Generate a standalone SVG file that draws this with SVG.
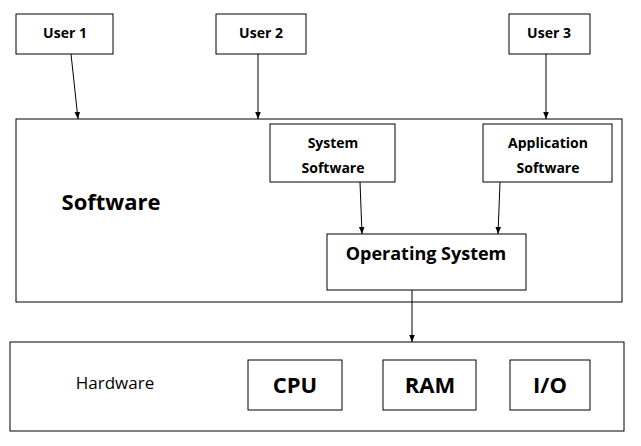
<svg xmlns="http://www.w3.org/2000/svg" width="641" height="446" viewBox="0 0 641 446">
<style>
rect{fill:#fff;stroke:#000;stroke-width:1}
text{font-family:"Open Sans","Liberation Sans",sans-serif;fill:#000;text-anchor:middle}
.b{font-weight:bold;font-size:14px}
.big{font-weight:bold;font-size:22px}
line{stroke:#000;stroke-width:1;marker-end:url(#a)}
</style>
<defs><marker id="a" viewBox="0 0 10 10" refX="10" refY="5" markerWidth="7" markerHeight="7" orient="auto"><path d="M0,1L10,5L0,9z" fill="#000"/></marker></defs>
<rect width="641" height="446" style="stroke:none"/>
<g id="software"><rect x="16" y="119" width="606" height="183"/><text x="111" y="210" class="big">Software</text></g>
<g id="hardware"><rect x="10" y="342" width="614" height="89"/><text x="115" y="389" style="font-size:17px">Hardware</text></g>
<g id="user1"><rect x="16" y="14" width="97" height="40"/><text x="65" y="38" class="b">User 1</text></g>
<g id="user2"><rect x="216" y="14" width="90" height="40"/><text x="261" y="38" class="b">User 2</text></g>
<g id="user3"><rect x="509" y="14" width="81" height="40"/><text x="549" y="38" class="b">User 3</text></g>
<g id="syssw"><rect x="270" y="124" width="125" height="58"/><text x="333" y="148" class="b">System</text><text x="333" y="173" class="b">Software</text></g>
<g id="appsw"><rect x="483" y="124" width="129" height="58"/><text x="548" y="148" class="b">Application</text><text x="548" y="173" class="b">Software</text></g>
<g id="os"><rect x="327" y="234" width="199" height="56"/><text x="426" y="260" style="font-size:18px;font-weight:bold">Operating System</text></g>
<g id="cpu"><rect x="248" y="360" width="94" height="50"/><text x="295" y="393" class="big">CPU</text></g>
<g id="ram"><rect x="383" y="360" width="93" height="50"/><text x="430" y="393" class="big">RAM</text></g>
<g id="io"><rect x="510" y="360" width="80" height="50"/><text x="550" y="393" class="big">I/O</text></g>
<g id="connectors">
<line x1="71" y1="54" x2="78" y2="119"/>
<line x1="258" y1="54" x2="258" y2="119"/>
<line x1="546" y1="54" x2="546" y2="119"/>
<line x1="360" y1="182" x2="362" y2="234"/>
<line x1="500" y1="182" x2="498" y2="234"/>
<line x1="412" y1="290" x2="412" y2="342"/>
</g>
</svg>
